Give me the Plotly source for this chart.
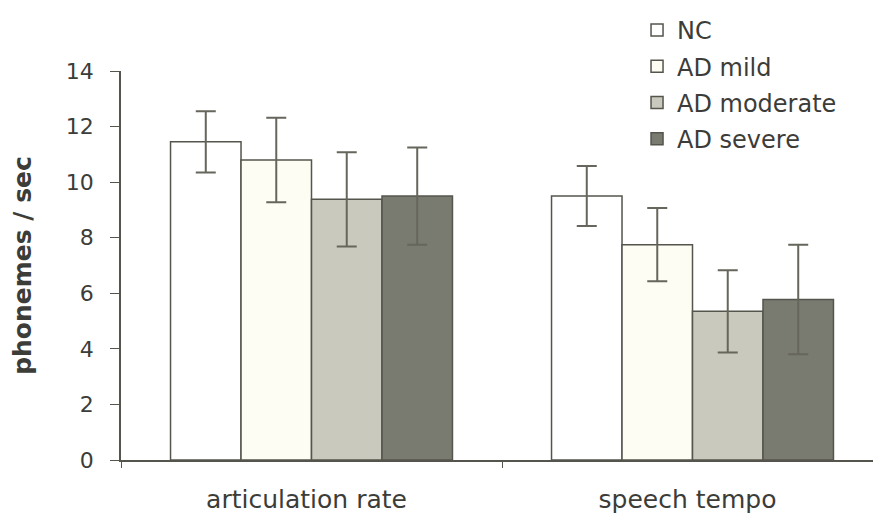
import plotly.graph_objects as go

categories = ["articulation rate", "speech tempo"]
groups = ["NC", "AD mild", "AD moderate", "AD severe"]
means = {
    "NC": [11.45, 9.5],
    "AD mild": [10.8, 7.75],
    "AD moderate": [9.38, 5.35],
    "AD severe": [9.5, 5.78],
}
sds = {
    "NC": [1.1, 1.08],
    "AD mild": [1.52, 1.32],
    "AD moderate": [1.7, 1.48],
    "AD severe": [1.75, 1.97],
}
y_ticks = [0, 2, 4, 6, 8, 10, 12, 14]

fills = {
    "NC": "#ffffff",
    "AD mild": "#fdfdf4",
    "AD moderate": "#c9c9bd",
    "AD severe": "#797a70",
}

fig = go.Figure()
for g in groups:
    fig.add_trace(go.Bar(
        name=g, x=categories, y=means[g], legendgroup=g,
        marker=dict(color=fills[g], line=dict(color="#55554d", width=1.5)),
        error_y=dict(type="data", array=sds[g], visible=True,
                     color="#66665c", thickness=2, width=10),
    ))

font = "DejaVu Sans"
fig.update_layout(
    width=881, height=514,
    paper_bgcolor="white", plot_bgcolor="white",
    margin=dict(l=113, r=6, t=63, b=62, autoexpand=False),
    barmode="group", bargap=0.26, bargroupgap=0,
    font=dict(family=font, size=23, color="#3c3c38"),
    showlegend=True,
    legend=dict(xref="container", yref="container", x=0.714, y=1.0,
                xanchor="left", yanchor="top", tracegroupgap=2,
                font=dict(size=24, color="#3c3c38"), bgcolor="rgba(0,0,0,0)"),
    xaxis=dict(showline=True, linecolor="#55554d", linewidth=1.5,
               ticks="outside", tickson="boundaries", ticklen=6,
               tickcolor="#55554d", ticklabelstandoff=16, ticklabelshift=-5,
               tickfont=dict(size=25), showgrid=False),
    yaxis=dict(range=[0, 14], tickvals=y_ticks, showline=True,
               linecolor="#55554d", linewidth=1.5, ticks="outside",
               ticklen=9, tickcolor="#55554d", showgrid=False, zeroline=False,
               tickfont=dict(size=22), ticklabelstandoff=12,
               title=dict(text="<b>phonemes / sec</b>", font=dict(size=25), standoff=28)),
)
fig.write_html("out.html")
